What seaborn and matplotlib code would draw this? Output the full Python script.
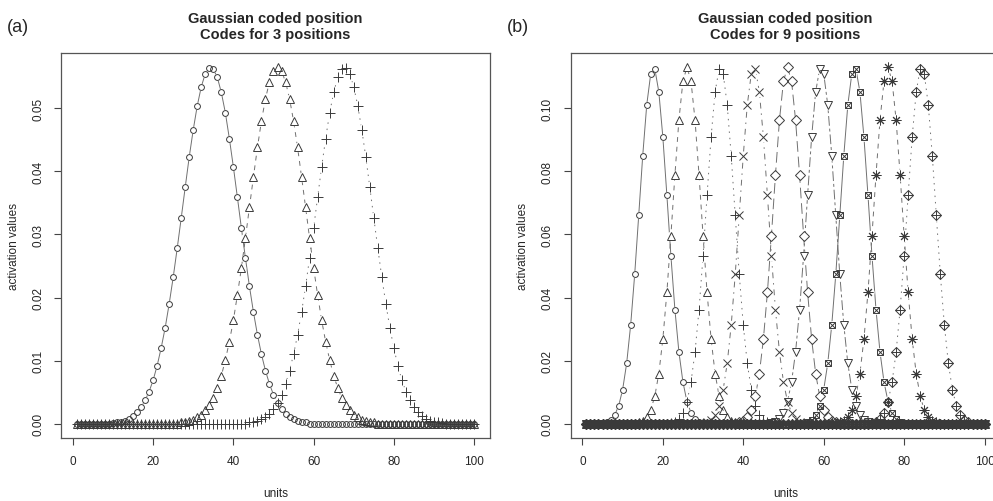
"""
Gaussian coded position: activation values of 3 and 9 position codes
drawn over 100 units, R-style open markers joined by thin lines.
"""
import numpy as np
import seaborn as sns
import matplotlib.pyplot as plt

# ------------------------------------------------------------------ data --- #
units = np.arange(1, 101)

# panel (a): 3 codes, each list starts at the unit given in a_starts
a_starts = [10, 27, 44]
a_circle = [0.0001, 0.0002, 0.0003, 0.0005, 0.0008, 0.0012, 0.0018, 0.0026, 0.0037, 0.0051,
            0.0069, 0.0092, 0.0120, 0.0152, 0.0190, 0.0232, 0.0278, 0.0326, 0.0375, 0.0423,
            0.0466, 0.0504, 0.0534, 0.0555, 0.0564, 0.0562, 0.0549, 0.0525, 0.0493, 0.0452,
            0.0407, 0.0359, 0.0310, 0.0263, 0.0218, 0.0177, 0.0141, 0.0110, 0.0084, 0.0063,
            0.0046, 0.0033, 0.0023, 0.0016, 0.0011, 0.0007, 0.0005, 0.0003, 0.0002]
a_triangle = [0.0002, 0.0003, 0.0004, 0.0006, 0.0010, 0.0014, 0.0021, 0.0030, 0.0041, 0.0057,
              0.0076, 0.0101, 0.0130, 0.0164, 0.0204, 0.0247, 0.0294, 0.0343, 0.0391, 0.0438,
              0.0480, 0.0515, 0.0542, 0.0559, 0.0565, 0.0559, 0.0542, 0.0515, 0.0480, 0.0438,
              0.0391, 0.0343, 0.0294, 0.0247, 0.0204, 0.0164, 0.0130, 0.0101, 0.0076, 0.0057,
              0.0041, 0.0030, 0.0021, 0.0014, 0.0010, 0.0006, 0.0004, 0.0003, 0.0002]
a_plus = [0.0002, 0.0003, 0.0005, 0.0007, 0.0011, 0.0016, 0.0023, 0.0033, 0.0046, 0.0063,
          0.0084, 0.0110, 0.0141, 0.0177, 0.0218, 0.0263, 0.0310, 0.0359, 0.0407, 0.0452,
          0.0493, 0.0525, 0.0549, 0.0562, 0.0564, 0.0555, 0.0534, 0.0504, 0.0466, 0.0423,
          0.0375, 0.0326, 0.0278, 0.0232, 0.0190, 0.0152, 0.0120, 0.0092, 0.0069, 0.0051,
          0.0037, 0.0026, 0.0018, 0.0012, 0.0008, 0.0005, 0.0003, 0.0002, 0.0001]

# panel (b): 9 codes
b_starts = [6, 14, 22, 31, 39, 47, 56, 64, 72]
b_circle = [0.0005, 0.0012, 0.0027, 0.0056, 0.0108, 0.0191, 0.0313, 0.0473, 0.0660, 0.0850,
            0.1011, 0.1110, 0.1125, 0.1052, 0.0909, 0.0725, 0.0533, 0.0362, 0.0227, 0.0132,
            0.0070, 0.0035, 0.0016, 0.0007, 0.0003]
b_triangle = [0.0004, 0.0009, 0.0021, 0.0044, 0.0087, 0.0159, 0.0268, 0.0416, 0.0596, 0.0788,
              0.0963, 0.1086, 0.1130, 0.1086, 0.0963, 0.0788, 0.0596, 0.0416, 0.0268, 0.0159,
              0.0087, 0.0044, 0.0021, 0.0009, 0.0004]
b_plus = [0.0003, 0.0007, 0.0016, 0.0035, 0.0070, 0.0132, 0.0227, 0.0362, 0.0533, 0.0725,
          0.0909, 0.1052, 0.1125, 0.1110, 0.1011, 0.0850, 0.0660, 0.0473, 0.0313, 0.0191,
          0.0108, 0.0056, 0.0027, 0.0012, 0.0005]
b_cross = [0.0005, 0.0012, 0.0027, 0.0056, 0.0108, 0.0191, 0.0313, 0.0473, 0.0660, 0.0850,
           0.1011, 0.1110, 0.1125, 0.1052, 0.0909, 0.0725, 0.0533, 0.0362, 0.0227, 0.0132,
           0.0070, 0.0035, 0.0016, 0.0007, 0.0003]
b_diamond = [0.0004, 0.0009, 0.0021, 0.0044, 0.0087, 0.0159, 0.0268, 0.0416, 0.0596, 0.0788,
             0.0963, 0.1086, 0.1130, 0.1086, 0.0963, 0.0788, 0.0596, 0.0416, 0.0268, 0.0159,
             0.0087, 0.0044, 0.0021, 0.0009, 0.0004]
b_down = [0.0003, 0.0007, 0.0016, 0.0035, 0.0070, 0.0132, 0.0227, 0.0362, 0.0533, 0.0725,
          0.0909, 0.1052, 0.1125, 0.1110, 0.1011, 0.0850, 0.0660, 0.0473, 0.0313, 0.0191,
          0.0108, 0.0056, 0.0027, 0.0012, 0.0005]
b_boxx = [0.0005, 0.0012, 0.0027, 0.0056, 0.0108, 0.0191, 0.0313, 0.0473, 0.0660, 0.0850,
          0.1011, 0.1110, 0.1125, 0.1052, 0.0909, 0.0725, 0.0533, 0.0362, 0.0227, 0.0132,
          0.0070, 0.0035, 0.0016, 0.0007, 0.0003]
b_star = [0.0004, 0.0009, 0.0021, 0.0044, 0.0087, 0.0159, 0.0268, 0.0416, 0.0596, 0.0788,
          0.0963, 0.1086, 0.1130, 0.1086, 0.0963, 0.0788, 0.0596, 0.0416, 0.0268, 0.0159,
          0.0087, 0.0044, 0.0021, 0.0009, 0.0004]
b_dplus = [0.0003, 0.0007, 0.0016, 0.0035, 0.0070, 0.0132, 0.0227, 0.0362, 0.0533, 0.0725,
           0.0909, 0.1052, 0.1125, 0.1110, 0.1011, 0.0850, 0.0660, 0.0473, 0.0313, 0.0191,
           0.0108, 0.0056, 0.0027, 0.0012, 0.0005]

a_yticks = [0.00, 0.01, 0.02, 0.03, 0.04, 0.05]
b_yticks = [0.00, 0.02, 0.04, 0.06, 0.08, 0.10]
x_ticks = [0, 20, 40, 60, 80, 100]

# --------------------------------------------------------------- styles --- #
MARK = "#3a3a3a"
LINE = "#707070"
R_LTY = [
    "-",
    (0, (5, 5)),            # dashed
    (0, (1.5, 5)),          # dotted
    (0, (1.5, 5, 6, 5)),    # dotdash
    (0, (11, 5)),           # longdash
    (0, (3, 3, 10, 3)),     # twodash
]
# each marker may be a stack of matplotlib markers (R pch 7, 8, 9)
PCH = [
    [("o", 4.2)],
    [("^", 5.5)],
    [("+", 6.5)],
    [("x", 5.5)],
    [("D", 4.6)],
    [("v", 5.5)],
    [("s", 5.0), ("x", 4.0)],
    [((8, 2, 0), 7.0)],
    [("D", 5.2), ("+", 7.0)],
]


def spread(start, vals):
    y = np.zeros(len(units))
    y[start - 1:start - 1 + len(vals)] = vals
    return y


def draw_codes(ax, series):
    # lines first, then white gaps round the points (R type="b"), then points
    for k, y in enumerate(series):
        sns.lineplot(x=units, y=y, ax=ax, color=LINE, linewidth=0.7,
                     linestyle=R_LTY[k % len(R_LTY)], estimator=None, sort=False)
    for k, y in enumerate(series):
        gap = max(ms for _, ms in PCH[k]) * 1.25
        ax.plot(units, y, linestyle="none", marker="o", markersize=gap,
                markerfacecolor="white", markeredgecolor="none")
    for k, y in enumerate(series):
        for m, ms in PCH[k]:
            ax.plot(units, y, linestyle="none", marker=m, markersize=ms,
                    markerfacecolor="none", markeredgecolor=MARK,
                    markeredgewidth=0.7)


def style_axes(ax, yticks, ylim, title):
    ax.set_xlim(-2.96, 103.96)
    ax.set_ylim(*ylim)
    ax.set_xticks(x_ticks)
    ax.set_xticklabels([str(t) for t in x_ticks])
    ax.set_yticks(yticks)
    ax.set_yticklabels([f"{t:.2f}" for t in yticks], rotation=90, va="center")
    ax.tick_params(direction="out", length=5, width=0.8, color="#444444",
                   labelsize=8.5, pad=7, left=True, bottom=True)
    for sp in ax.spines.values():
        sp.set_color("#555555")
        sp.set_linewidth(0.9)
    ax.set_xlabel("units", fontsize=8.5, labelpad=15)
    ax.set_ylabel("activation values", fontsize=8.5, labelpad=9)
    ax.set_title(title, fontsize=10.5, fontweight="bold", pad=11,
                 linespacing=1.15)


# ---------------------------------------------------------------- figure --- #
sns.set_theme(style="white")
plt.rcParams["font.family"] = ["Liberation Sans", "DejaVu Sans"]

fig = plt.figure(figsize=(9.93, 5.02), dpi=100)
ax_a = fig.add_axes([61 / 993, 1 - 439 / 502, 429 / 993, 385 / 502])
ax_b = fig.add_axes([570.5 / 993, 1 - 439 / 502, 430 / 993, 385 / 502])

a_values = [a_circle, a_triangle, a_plus]
draw_codes(ax_a, [spread(s, v) for s, v in zip(a_starts, a_values)])

b_values = [b_circle, b_triangle, b_plus, b_cross, b_diamond,
            b_down, b_boxx, b_star, b_dplus]
draw_codes(ax_b, [spread(s, v) for s, v in zip(b_starts, b_values)])

style_axes(ax_a, a_yticks, (-0.00226, 0.05876),
           "Gaussian coded position\nCodes for 3 positions")
style_axes(ax_b, b_yticks, (-0.00452, 0.1175),
           "Gaussian coded position\nCodes for 9 positions")

fig.text(7 / 993, 1 - 27 / 502, "(a)", fontsize=13, va="center", ha="left")
fig.text(507 / 993, 1 - 27 / 502, "(b)", fontsize=13, va="center", ha="left")

fig.savefig("out.png", dpi=100, facecolor="white")
